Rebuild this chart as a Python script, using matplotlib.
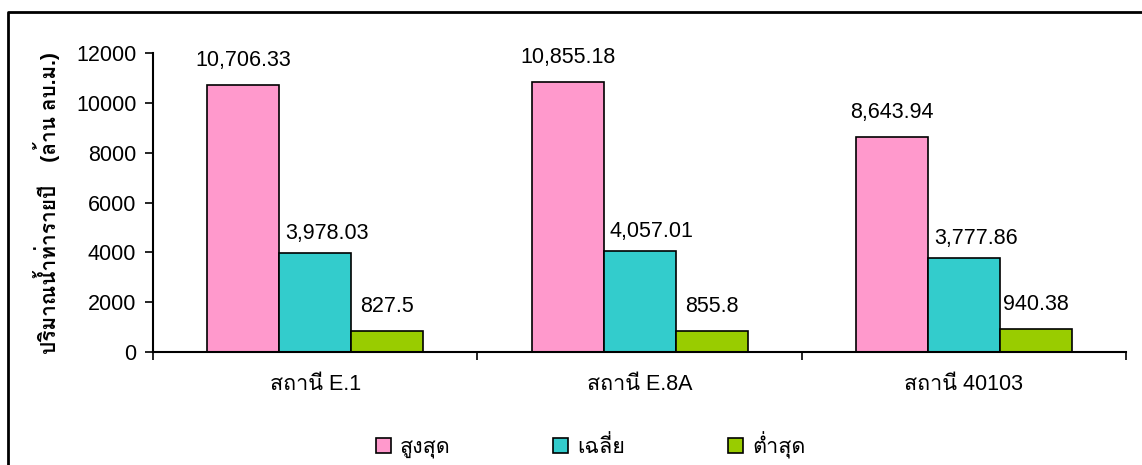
import matplotlib
matplotlib.use('Agg')
import matplotlib.pyplot as plt
from matplotlib import font_manager
from matplotlib.ft2font import FT2Font
from matplotlib.patches import Patch
from matplotlib.lines import Line2D
import numpy as np

stations = ['สถานี E.1', 'สถานี E.8A', 'สถานี 40103']
series_names = ['สูงสุด', 'เฉลี่ย', 'ต่ำสุด']
max_vals = [10706.33, 10855.18, 8643.94]
avg_vals = [3978.03, 4057.01, 3777.86]
min_vals = [827.5, 855.8, 940.38]
value_labels = [['10,706.33', '10,855.18', '8,643.94'],
                ['3,978.03', '4,057.01', '3,777.86'],
                ['827.5', '855.8', '940.38']]
colors = ['#FF99CC', '#33CCCC', '#99CC00']
y_ticks = [0, 2000, 4000, 6000, 8000, 10000, 12000]
# label offsets (points) per series, as excel placed them
label_offsets = [(0, 13.7), (8.6, 10), (0, 13.7)]


# find some installed font that has Thai glyphs
def find_thai_font():
    names = []
    for f in font_manager.fontManager.ttflist:
        try:
            cmap = FT2Font(f.fname).get_charmap()
        except Exception:
            continue
        if 0x0E2A in cmap and f.name not in names:
            names.append(f.name)
    return names


thai = find_thai_font()
plt.rcParams['font.family'] = ['Liberation Sans'] + thai + ['DejaVu Sans']
fs = 15.5

fig = plt.figure(figsize=(11.42, 4.65), dpi=100)
ax = fig.add_axes([0.134, 0.243, 0.852, 0.643])

x = np.arange(len(stations))
w = 0.222
data = [max_vals, avg_vals, min_vals]
for i, vals in enumerate(data):
    pos = x + (i - 1) * w
    ax.bar(pos, vals, w, color=colors[i], edgecolor='black', linewidth=1.2,
           label=series_names[i], zorder=2)
    for p, v, lab in zip(pos, vals, value_labels[i]):
        ax.annotate(lab, (p, v), xytext=label_offsets[i], textcoords='offset points',
                    ha='center', va='baseline', fontsize=fs)

ax.set_xlim(-0.5, 2.5)
ax.set_ylim(0, 12000)
ax.set_yticks(y_ticks)
ax.set_yticklabels([str(t) for t in y_ticks], fontsize=fs)
ax.set_xticks([-0.5, 0.5, 1.5, 2.5])
ax.set_xticklabels([])
ax.set_xticks(x, minor=True)
ax.set_xticklabels(stations, minor=True, fontsize=fs)
ax.tick_params(axis='x', which='minor', length=0, pad=16)
ax.tick_params(axis='x', which='major', length=6, width=1.2, direction='out')
ax.tick_params(axis='y', length=6, width=1.2, direction='out', pad=6)
for s in ['top', 'right']:
    ax.spines[s].set_visible(False)
ax.spines['left'].set_linewidth(1.5)
ax.spines['bottom'].set_linewidth(1.5)

fig.text(0.041, 0.563, 'ปริมาณน้ำท่ารายปี    (ล้าน ลบ.ม.)', rotation=90,
         ha='center', va='center', fontsize=15, fontweight='bold')

handles = [Patch(facecolor=c, edgecolor='black', linewidth=1.2) for c in colors]
fig.legend(handles, series_names, loc='center', bbox_to_anchor=(0.517, 0.043),
           ncol=3, frameon=False, fontsize=fs, handlelength=0.7,
           handleheight=0.7, handletextpad=0.4, columnspacing=4.8)

# outer chart frame (only the top and left edges fall inside the image)
fig.add_artist(Line2D([8 / 1142, 8 / 1142, 1.0], [0.0, 1 - 12 / 465, 1 - 12 / 465],
                      transform=fig.transFigure, color='black', linewidth=2))

fig.savefig('out.png', dpi=100)
